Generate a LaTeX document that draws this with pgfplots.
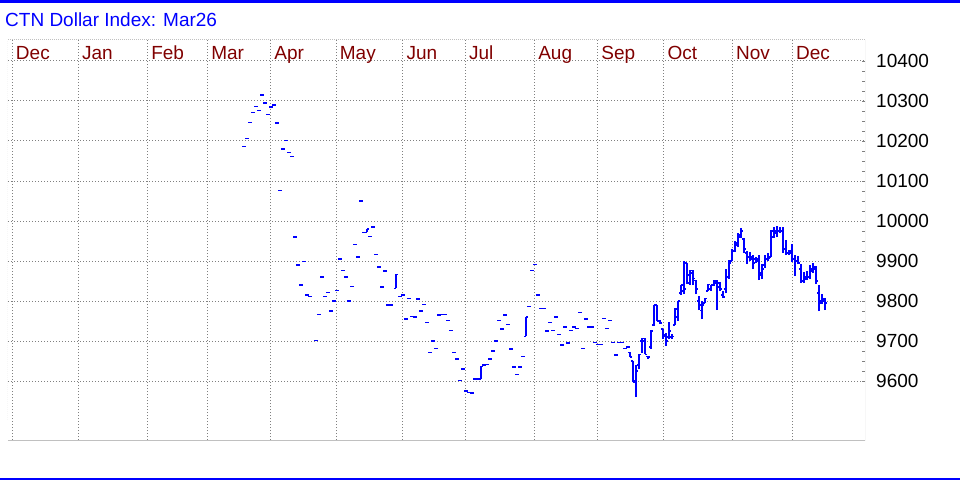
\documentclass[border=0pt]{standalone}
\usepackage{fontspec}
\setmainfont{Liberation Sans}
\usepackage{pgfplots}
\usepackage{pgfplotstable}
\pgfplotsset{compat=1.18}
\definecolor{barblue}{RGB}{0,0,255}
\definecolor{monthred}{RGB}{128,0,0}
\definecolor{gridgray}{RGB}{128,128,128}
\definecolor{framegray}{RGB}{192,192,192}

\pgfplotstableread{
x o h l c
244 10187 10187 10187 10187
247 10207 10207 10207 10207
250 10247 10247 10247 10247
253 10272 10272 10272 10272
256 10287 10287 10287 10287
259 10277 10277 10277 10277
262 10315 10315 10315 10315
265 10295 10295 10295 10295
268 10267 10267 10267 10267
271 10285 10285 10285 10285
274 10290 10290 10290 10290
277 10245 10245 10245 10245
280 10077 10077 10077 10077
283 10180 10180 10180 10180
286 10202 10202 10202 10202
289 10172 10172 10172 10172
292 10162 10162 10162 10162
295 9960 9960 9960 9960
298 9890 9890 9890 9890
301 9840 9840 9840 9840
304 9898 9898 9898 9898
307 9815 9815 9815 9815
310 9812 9812 9812 9812
316 9702 9702 9702 9702
319 9767 9767 9767 9767
322 9860 9860 9860 9860
325 9812 9812 9812 9812
328 9822 9822 9822 9822
331 9775 9775 9775 9775
334 9800 9800 9800 9800
337 9827 9827 9827 9827
340 9905 9905 9905 9905
343 9877 9877 9877 9877
346 9860 9860 9860 9860
349 9800 9800 9800 9800
352 9837 9837 9837 9837
355 9942 9942 9942 9942
358 9910 9910 9910 9910
361 10050 10050 10050 10050
364 9972 9972 9972 9972
367 9972 9980 9972 9980
370 9962 9962 9962 9962
373 9985 9985 9985 9985
376 9917 9917 9917 9917
379 9885 9885 9885 9885
382 9835 9835 9835 9835
385 9875 9875 9875 9875
388 9790 9790 9790 9790
391 9790 9790 9790 9790
396 9832 9867 9832 9867
400 9812 9812 9812 9812
403 9815 9815 9815 9815
406 9755 9755 9755 9755
409 9807 9807 9807 9807
412 9762 9762 9762 9762
415 9760 9760 9760 9760
418 9805 9805 9805 9805
421 9775 9775 9775 9775
424 9792 9792 9792 9792
427 9747 9747 9747 9747
430 9672 9672 9672 9672
433 9700 9700 9700 9700
436 9682 9682 9682 9682
439 9765 9765 9765 9765
442 9767 9767 9767 9767
445 9767 9767 9767 9767
448 9752 9752 9752 9752
451 9727 9727 9727 9727
454 9672 9672 9672 9672
457 9655 9655 9655 9655
460 9602 9602 9602 9602
463 9630 9630 9630 9630
466 9575 9575 9575 9575
469 9572 9572 9572 9572
472 9570 9570 9570 9570
475 9605 9605 9605 9605
478 9605 9605 9605 9605
481 9605 9637 9605 9637
484 9640 9640 9640 9640
487 9642 9642 9642 9642
490 9655 9655 9655 9655
493 9675 9675 9675 9675
496 9700 9700 9700 9700
499 9752 9752 9752 9752
502 9730 9730 9730 9730
505 9765 9765 9765 9765
508 9742 9742 9742 9742
511 9680 9680 9680 9680
514 9635 9635 9635 9635
517 9617 9617 9617 9617
520 9635 9635 9635 9635
523 9662 9662 9662 9662
526 9712 9760 9712 9760
529 9787 9787 9787 9787
532 9877 9877 9877 9877
535 9892 9892 9892 9892
538 9815 9815 9815 9815
541 9782 9782 9782 9782
544 9782 9782 9782 9782
547 9725 9725 9725 9725
550 9747 9747 9747 9747
553 9727 9727 9727 9727
556 9760 9760 9760 9760
559 9717 9717 9717 9717
562 9690 9690 9690 9690
565 9735 9735 9735 9735
568 9695 9695 9695 9695
571 9727 9727 9727 9727
574 9735 9735 9735 9735
577 9732 9732 9732 9732
580 9772 9772 9772 9772
583 9682 9682 9682 9682
586 9755 9755 9755 9755
589 9735 9735 9735 9735
592 9735 9735 9735 9735
595 9697 9697 9697 9697
598 9692 9692 9692 9692
601 9692 9692 9692 9692
604 9757 9757 9757 9757
607 9732 9732 9732 9732
610 9752 9752 9752 9752
613 9697 9697 9697 9697
616 9665 9665 9665 9665
619 9697 9697 9697 9697
622 9697 9697 9697 9697
625 9682 9682 9682 9682
628 9685 9685 9685 9685
630 9672 9672 9660 9660
633 9650 9650 9597 9597
636 9600 9640 9560 9625
639 9640 9667 9630 9667
642 9700 9707 9670 9707
645 9700 9707 9667 9667
648 9662 9662 9655 9660
651 9685 9727 9680 9725
654 9740 9790 9737 9790
657 9790 9790 9750 9750
660 9752 9752 9742 9745
663 9730 9730 9705 9712
666 9715 9720 9687 9700
669 9710 9747 9705 9725
672 9710 9717 9705 9712
675 9740 9782 9740 9780
678 9760 9800 9750 9800
681 9820 9840 9815 9840
684 9825 9900 9817 9830
687 9895 9895 9842 9845
690 9865 9877 9840 9877
693 9870 9877 9840 9857
696 9852 9852 9817 9830
699 9800 9812 9777 9790
702 9777 9800 9755 9790
705 9795 9807 9795 9807
708 9825 9842 9825 9842
711 9830 9840 9825 9840
714 9840 9852 9837 9845
717 9850 9852 9777 9845
720 9835 9847 9825 9830
723 9815 9825 9807 9810
726 9830 9880 9820 9860
729 9860 9902 9855 9895
732 9900 9930 9900 9925
735 9925 9950 9922 9945
738 9940 9970 9935 9960
741 9965 9982 9957 9975
744 9955 9957 9920 9930
747 9920 9925 9892 9910
750 9910 9922 9900 9910
753 9905 9915 9880 9895
756 9905 9910 9895 9905
759 9900 9915 9852 9870
762 9865 9892 9855 9880
765 9890 9915 9882 9905
768 9905 9920 9900 9907
771 9910 9977 9910 9975
774 9960 9985 9957 9970
777 9975 9987 9960 9975
780 9975 9985 9970 9975
783 9975 9985 9920 9930
786 9930 9952 9915 9920
789 9920 9927 9915 9920
792 9925 9942 9897 9905
795 9905 9915 9862 9900
798 9900 9912 9892 9895
801 9880 9892 9845 9850
804 9850 9872 9845 9860
807 9855 9875 9852 9860
810 9860 9890 9855 9875
813 9880 9895 9870 9885
816 9880 9887 9842 9850
819 9820 9840 9775 9795
822 9800 9817 9792 9805
825 9800 9807 9777 9795
}\ohlc

\begin{document}
\begin{tikzpicture}[x=1pt,y=1pt]
\path[use as bounding box] (0,0) rectangle (960,480);
\fill[barblue] (0,477) rectangle (960,480);
\fill[barblue] (0,0) rectangle (960,2);
\node[anchor=base west, inner sep=0pt, text=barblue, font=\fontsize{19}{19}\selectfont] at (5,453) {CTN Dollar Index: Mar26};
\begin{axis}[
  at={(8pt,40pt)}, anchor=south west,
  scale only axis, width=857pt, height=400pt,
  xmin=8, xmax=865, ymin=9452.5, ymax=10452.5,
  axis line style={draw=none},
  xtick={12.3,78.4,147.6,207.6,270.7,336.2,402.9,465.4,534.6,597.7,663.8,732.4,792.4},
  xticklabels={Dec,Jan,Feb,Mar,Apr,May,Jun,Jul,Aug,Sep,Oct,Nov,Dec},
  xticklabel pos=upper,
  xticklabel style={anchor=base west, inner sep=0pt, xshift=3.5pt, yshift=-20pt, text=monthred, font=\fontsize{19}{19}\selectfont},
  xtick style={draw=none},
  ytick={9600,9700,9800,9900,10000,10100,10200,10300,10400},
  minor y tick num=3,
  ytick pos=right, yticklabel pos=right,
  tick align=inside,
  major tick length=3pt, minor tick length=3pt,
  ytick style={draw=gridgray},
  yticklabel style={anchor=west, inner sep=0pt, xshift=11pt, font=\fontsize{19}{19}\selectfont},
  scaled y ticks=false,
  /pgf/number format/1000 sep={},
  /pgf/number format/assume math mode=true,
  grid=major,
  major grid style={draw=gridgray, line width=1pt, dash pattern=on 1pt off 2pt},
]
\draw[framegray, line width=1pt] (rel axis cs:0,0) -- (rel axis cs:1,0) -- (rel axis cs:1,1);
\draw[framegray, line width=1pt, dash pattern=on 1pt off 1pt] (rel axis cs:0,0.05) -- (rel axis cs:0,1) -- (rel axis cs:1,1);
\addplot[draw=none, mark=none, error bars/.cd, y dir=plus, y explicit, error mark=none,
  error bar style={draw=barblue, line width=1.3pt, solid}]
  table[x=x, y=l, y error plus expr=\thisrow{h}-\thisrow{l}] {\ohlc};
\addplot[draw=none, mark=none, error bars/.cd, x dir=minus, x fixed=1.7, error mark=none,
  error bar style={draw=barblue, line width=1.3pt, solid}]
  table[x=x, y=o] {\ohlc};
\addplot[draw=none, mark=none, error bars/.cd, x dir=plus, x fixed=1.7, error mark=none,
  error bar style={draw=barblue, line width=1.3pt, solid}]
  table[x=x, y=c] {\ohlc};
\end{axis}
\end{tikzpicture}
\end{document}
